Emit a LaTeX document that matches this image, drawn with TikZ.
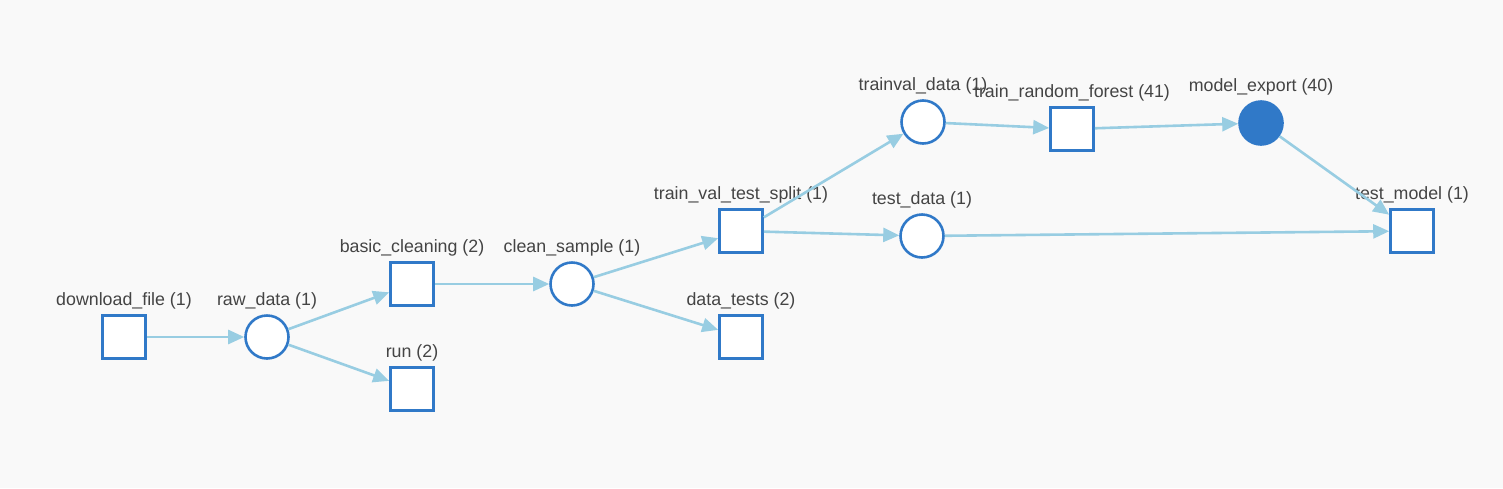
\documentclass[tikz,border=0pt]{standalone}
\usepackage{fontspec}
\setmainfont{Liberation Sans}
\usetikzlibrary{arrows.meta,positioning}
\definecolor{bggray}{HTML}{F9F9F9}
\definecolor{nodeblue}{HTML}{3079C8}
\definecolor{edgeblue}{HTML}{98CDE2}
\definecolor{labeltext}{HTML}{444444}

\begin{document}
\begin{tikzpicture}[
    x=1pt, y=-1pt,
    every node/.style={font=\fontsize{17.8}{20}\selectfont},
    stepbox/.style={rectangle, draw=nodeblue, fill=white, line width=2.6pt,
                    minimum size=43pt, inner sep=0pt},
    artifact/.style={circle, draw=nodeblue, fill=white, line width=2.6pt,
                     minimum size=43pt, inner sep=0pt},
    artifactdone/.style={artifact, fill=nodeblue},
    lbl/.style={text=labeltext, inner sep=0pt},
    myarrow/.style={-{Triangle[length=16pt, width=14pt]}, line width=2.6pt, edgeblue},
]

% --- Background ---
\fill[bggray] (0,0) rectangle (1503,488);

% --- Steps and artifacts ---
\node[stepbox] (download) at (124,337) {};
\node[artifact] (rawdata) at (267,337) {};
\node[stepbox] (cleaning) at (412,284) {};
\node[stepbox] (run) at (412,389) {};
\node[artifact] (cleansample) at (572,284) {};
\node[stepbox] (split) at (741,231) {};
\node[stepbox] (datatests) at (741,337) {};
\node[artifact] (trainval) at (923,122) {};
\node[artifact] (testdata) at (922,236) {};
\node[stepbox] (forest) at (1072,129) {};
\node[artifactdone] (export) at (1261,123) {};
\node[stepbox] (testmodel) at (1412,231) {};

% --- Labels ---
\node[lbl, above=5pt of download] (download-l) {download\_file (1)};
\node[lbl, above=5pt of rawdata] (rawdata-l) {raw\_data (1)};
\node[lbl, above=5pt of cleaning] (cleaning-l) {basic\_cleaning (2)};
\node[lbl, above=5pt of run] (run-l) {run (2)};
\node[lbl, above=5pt of cleansample] (cleansample-l) {clean\_sample (1)};
\node[lbl, above=5pt of split] (split-l) {train\_val\_test\_split (1)};
\node[lbl, above=5pt of datatests] (datatests-l) {data\_tests (2)};
\node[lbl, above=5pt of trainval] (trainval-l) {trainval\_data (1)};
\node[lbl, above=5pt of testdata] (testdata-l) {test\_data (1)};
\node[lbl, above=5pt of forest] (forest-l) {train\_random\_forest (41)};
\node[lbl, above=5pt of export] (export-l) {model\_export (40)};
\node[lbl, above=5pt of testmodel] (testmodel-l) {test\_model (1)};

% --- Edges ---
\draw[myarrow] (download) -- (rawdata);
\draw[myarrow] (rawdata) -- (cleaning);
\draw[myarrow] (rawdata) -- (run);
\draw[myarrow] (cleaning) -- (cleansample);
\draw[myarrow] (cleansample) -- (split);
\draw[myarrow] (cleansample) -- (datatests);
\draw[myarrow] (split) -- (trainval);
\draw[myarrow] (split) -- (testdata);
\draw[myarrow] (trainval) -- (forest);
\draw[myarrow] (forest) -- (export);
\draw[myarrow] (export) -- (testmodel);
\draw[myarrow] (testdata) -- (testmodel);

\end{tikzpicture}
\end{document}
